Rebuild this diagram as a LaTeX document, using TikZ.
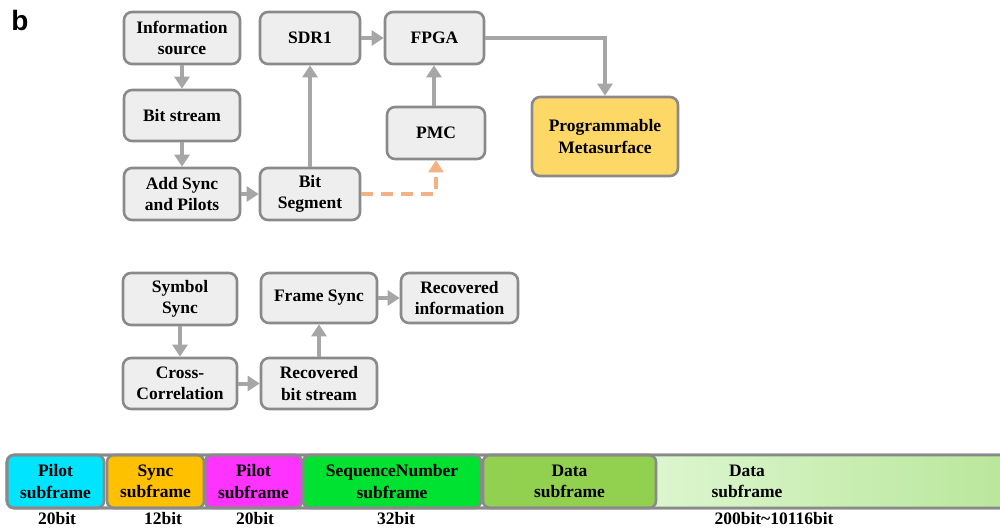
\documentclass[tikz,border=0pt]{standalone}
\usepackage{fontspec}
\setmainfont{Liberation Serif}
\newfontfamily\labelfont{Liberation Sans}
\usetikzlibrary{arrows.meta}
\definecolor{boxfill}{HTML}{EEEEEE}
\definecolor{boxline}{HTML}{8A8A8A}
\definecolor{arr}{HTML}{A6A6A6}
\definecolor{dashor}{HTML}{F4B183}
\definecolor{meta}{HTML}{FDD866}
\definecolor{cpilot}{HTML}{00E5FF}
\definecolor{csync}{HTML}{FFC000}
\definecolor{cmag}{HTML}{FF33FF}
\definecolor{cseq}{HTML}{00E232}
\definecolor{cdata}{HTML}{92D050}
\definecolor{gleft}{HTML}{DCF6CF}
\definecolor{gright}{HTML}{BAE79C}
\tikzset{
  blk/.style={draw=boxline, line width=2.6pt, fill=boxfill, rounded corners=8pt,
    align=center, inner sep=0pt, font=\bfseries\fontsize{17.5}{21.5}\selectfont},
  sub/.style={draw=boxline, line width=2.6pt, rounded corners=7pt,
    align=center, inner sep=0pt, font=\bfseries\fontsize{17.5}{21.5}\selectfont},
  lbl/.style={inner sep=0pt, font=\bfseries\fontsize{17.5}{21.5}\selectfont},
  flow/.style={draw=arr, line width=4pt, -{Triangle[width=15pt,length=12pt]}},
  dflow/.style={draw=dashor, line width=4pt, dash pattern=on 12pt off 8pt, -{Triangle[width=15pt,length=12pt]}}
}
\begin{document}
\begin{tikzpicture}[x=1pt,y=-1pt]
\useasboundingbox (0,0) rectangle (1000,529);
\node[inner sep=0pt, font=\labelfont\bfseries\fontsize{28}{30}\selectfont] (b) at (20,20) {b};
% top section
\node[blk, minimum width=116pt, minimum height=52pt] (info) at (182,38) {Information\\source};
\node[blk, minimum width=116pt, minimum height=51pt] (bits) at (182,115.5) {Bit stream};
\node[blk, minimum width=116pt, minimum height=52pt] (add) at (182,194) {Add Sync\\and Pilots};
\node[blk, minimum width=100pt, minimum height=52pt] (sdr) at (310,38) {SDR1};
\node[blk, minimum width=100pt, minimum height=52pt] (seg) at (310,194) {Bit\\Segment};
\node[blk, minimum width=99pt, minimum height=52pt] (fpga) at (434.5,38) {FPGA};
\node[blk, minimum width=98pt, minimum height=52pt] (pmc) at (436,133) {PMC};
\node[blk, fill=meta, minimum width=146pt, minimum height=79pt] (meta) at (605,136.5) {Programmable\\Metasurface};
\draw[flow] (info) -- (bits);
\draw[flow] (bits) -- (add);
\draw[flow] (add) -- (seg);
\draw[flow] (seg) -- (sdr);
\draw[flow] (sdr) -- (fpga);
\draw[flow] (pmc.north -| 434,0) -- (fpga.south -| 434,0);
\draw[flow] (fpga.east) -| (meta.north);
\draw[dflow] (seg.east) -| (pmc.south);
% lower section
\node[blk, minimum width=114pt, minimum height=52pt] (sym) at (180,299) {Symbol\\Sync};
\node[blk, minimum width=114pt, minimum height=51pt] (cross) at (180,383.5) {Cross-\\Correlation};
\node[blk, minimum width=116pt, minimum height=51pt] (rbs) at (319,383.5) {Recovered\\bit stream};
\node[blk, minimum width=116pt, minimum height=50pt] (fs) at (319,298) {Frame Sync};
\node[blk, minimum width=117pt, minimum height=50pt] (rinfo) at (459.5,298) {Recovered\\information};
\draw[flow] (sym) -- (cross);
\draw[flow] (cross) -- (rbs);
\draw[flow] (rbs) -- (fs);
\draw[flow] (fs) -- (rinfo);
% frame bar
\draw[draw=boxline, line width=2.6pt, fill=white, rounded corners=7pt] (7,455) rectangle (1012,508);
\shade[left color=gleft, right color=gright] (650,456.5) rectangle (1000,506.5);
\node[sub, fill=cpilot, minimum width=97pt, minimum height=53pt] (p1) at (55.5,481.5) {Pilot\\subframe};
\node[sub, fill=csync, minimum width=97pt, minimum height=53pt] (s1) at (155.5,481.5) {Sync\\subframe};
\node[sub, fill=cmag, minimum width=97pt, minimum height=53pt] (p2) at (253.5,481.5) {Pilot\\subframe};
\node[sub, fill=cseq, minimum width=178pt, minimum height=53pt] (sq) at (392,481.5) {SequenceNumber\\subframe};
\node[sub, fill=cdata, minimum width=173pt, minimum height=53pt] (d1) at (569.5,481.5) {Data\\subframe};
\node[lbl, align=center] (d2) at (747,481.5) {Data\\subframe};
\draw[draw=boxline, line width=2.6pt, rounded corners=7pt] (7,455) rectangle (1012,508);
\node[lbl] (b1) at (57,519) {20bit};
\node[lbl] (b2) at (163,519) {12bit};
\node[lbl] (b3) at (255,519) {20bit};
\node[lbl] (b4) at (396,519) {32bit};
\node[lbl] (b5) at (774,519) {200bit\textasciitilde10116bit};
\end{tikzpicture}
\end{document}
